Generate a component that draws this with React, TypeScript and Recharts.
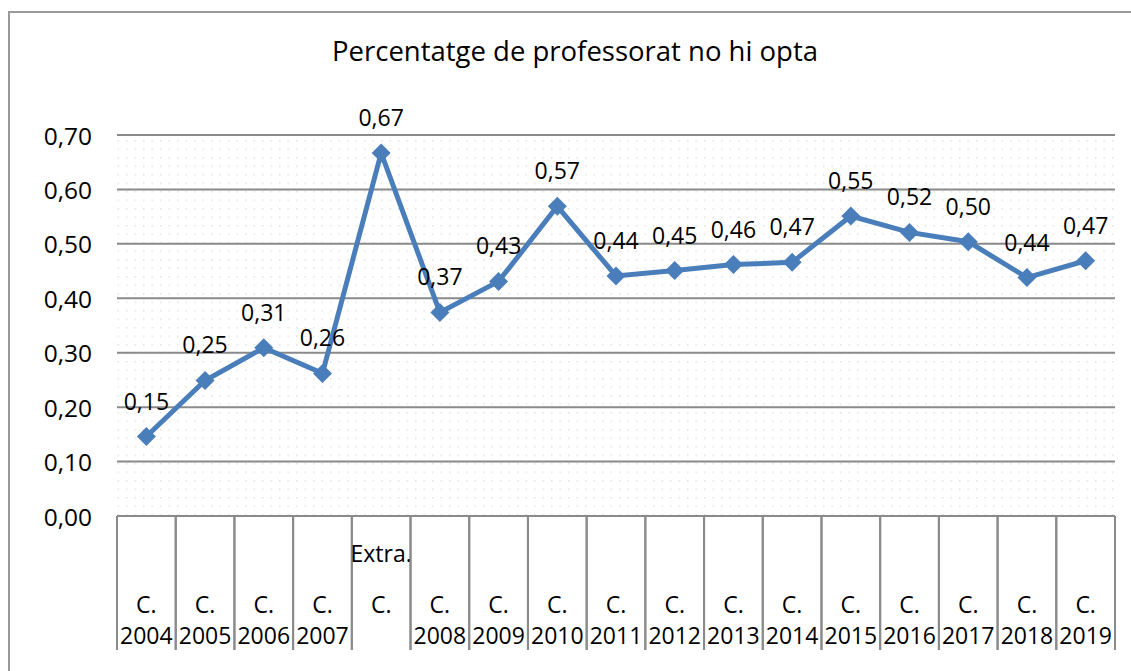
import { LineChart, Line, XAxis, YAxis, CartesianGrid } from "recharts";

const categories = [
	"C. 2004",
	"C. 2005",
	"C. 2006",
	"C. 2007",
	"Extra. C.",
	"C. 2008",
	"C. 2009",
	"C. 2010",
	"C. 2011",
	"C. 2012",
	"C. 2013",
	"C. 2014",
	"C. 2015",
	"C. 2016",
	"C. 2017",
	"C. 2018",
	"C. 2019",
];

const values = [
	0.146, 0.249, 0.309, 0.262, 0.667, 0.374, 0.431, 0.569, 0.441, 0.451, 0.462,
	0.466, 0.551, 0.521, 0.504, 0.438, 0.469,
];

const yTicks = [0, 0.1, 0.2, 0.3, 0.4, 0.5, 0.6, 0.7];

const data = categories.map((name, i) => ({ name, value: values[i] }));

const FONT = "'Open Sans', 'Noto Sans', sans-serif";
const BLUE = "#4a7ebb";
const GRID = "#8a8a8a";

const fmt = (v: number) => v.toFixed(2).replace(".", ",");

const YTick = (props: any) => {
	const { x, y, payload } = props;
	return (
		<text
			x={x - 25}
			y={y}
			textAnchor="end"
			dominantBaseline="central"
			fontSize={24.5}
			fontFamily={FONT}
			fill="#000"
		>
			{fmt(payload.value)}
		</text>
	);
};

// category cell: boundary lines + wrapped label, like the Excel axis
const XTick = (props: any) => {
	const { x, y, payload } = props;
	const half = payload.offset ?? 29.3;
	const words = String(payload.value).split(" ");
	const extra = words[0] === "Extra.";
	const ys = extra ? [37, 88] : [88, 119];
	return (
		<g>
			<line x1={x - half} y1={y} x2={x - half} y2={y + 134} stroke={GRID} strokeWidth={2} />
			<line x1={x + half} y1={y} x2={x + half} y2={y + 134} stroke={GRID} strokeWidth={2} />
			{words.map((w, i) => (
				<text
					key={i}
					x={x}
					y={y + ys[i]}
					textAnchor="middle"
					dominantBaseline="central"
					fontSize={23}
					fontFamily={FONT}
					fill="#000"
				>
					{w}
				</text>
			))}
		</g>
	);
};

const Diamond = (props: any) => {
	const { cx, cy } = props;
	if (cx == null || cy == null) return null;
	const r = 9.5;
	return (
		<path
			d={`M${cx},${cy - r} L${cx + r},${cy} L${cx},${cy + r} L${cx - r},${cy} Z`}
			fill={BLUE}
			stroke="none"
		/>
	);
};

const ValueLabel = (props: any) => {
	const { x, y, value } = props;
	return (
		<text
			x={x}
			y={y - 36}
			textAnchor="middle"
			dominantBaseline="central"
			fontSize={23}
			fontFamily={FONT}
			fill="#000"
		>
			{fmt(value)}
		</text>
	);
};

export default function App() {
	return (
		<div
			style={{
				position: "fixed",
				left: 0,
				top: 0,
				width: 1131,
				height: 671,
				overflow: "hidden",
				background: "#fff",
			}}
		>
			<div
				style={{
					position: "absolute",
					left: 8,
					top: 11,
					width: 1140,
					height: 680,
					border: "2px solid #9a9a9a",
					boxSizing: "border-box",
				}}
			/>
			<div
				style={{
					position: "absolute",
					left: 0,
					top: 32,
					width: 1150,
					textAlign: "center",
					fontFamily: FONT,
					fontSize: 27.5,
					lineHeight: "38px",
					color: "#000",
				}}
			>
				Percentatge de professorat no hi opta
			</div>
			<div style={{ position: "absolute", left: 0, top: 0 }}>
				<LineChart
					width={1131}
					height={671}
					data={data}
					margin={{ top: 135, right: 16, bottom: 15, left: 57 }}
				>
					<defs>
						<pattern id="dots" x={7} y={4} width={8.5} height={8.5} patternUnits="userSpaceOnUse">
							<rect x={0} y={0} width={1.5} height={1.5} fill="#e3e3e3" />
						</pattern>
					</defs>
					<CartesianGrid
						vertical={false}
						stroke={GRID}
						strokeWidth={2}
						fill="url(#dots)"
						fillOpacity={1}
					/>
					<XAxis
						dataKey="name"
						scale="band"
						height={140}
						axisLine={false}
						tickLine={false}
						tickSize={0}
						tickMargin={0}
						interval={0}
						tick={<XTick />}
					/>
					<YAxis
						domain={[0, 0.7]}
						ticks={yTicks}
						width={60}
						axisLine={false}
						tickLine={false}
						tickSize={0}
						tickMargin={0}
						tick={<YTick />}
					/>
					<Line
						type="linear"
						dataKey="value"
						stroke={BLUE}
						strokeWidth={5}
						dot={<Diamond />}
						activeDot={false}
						label={<ValueLabel />}
						isAnimationActive={false}
					/>
				</LineChart>
			</div>
		</div>
	);
}
